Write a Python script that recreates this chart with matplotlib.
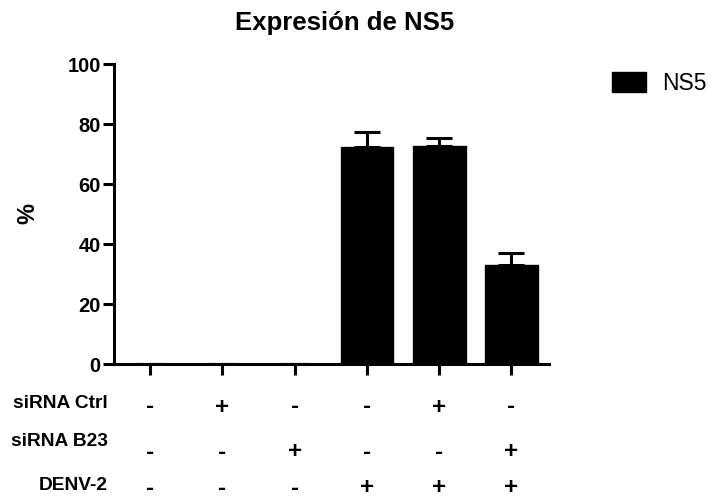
import matplotlib
matplotlib.use("Agg")
import matplotlib.pyplot as plt
from matplotlib.transforms import blended_transform_factory
from matplotlib.patches import Patch

plt.rcParams['font.family'] = ['Liberation Sans', 'DejaVu Sans']

title = "Expresión de NS5"
series_name = "NS5"
values = [0, 0, 0, 72.4, 72.7, 33.0]
errors = [0, 0, 0, 4.8, 2.5, 3.9]
yticks = [0, 20, 40, 60, 80, 100]
row_labels = ["siRNA Ctrl", "siRNA B23", "DENV-2"]
row_signs = [
    ["-", "+", "-", "-", "+", "-"],
    ["-", "-", "+", "-", "-", "+"],
    ["-", "-", "-", "+", "+", "+"],
]

W, H = 711, 500
fig = plt.figure(figsize=(W / 100, H / 100), dpi=100)
ax = fig.add_axes([114 / W, 1 - 364 / H, (549 - 114) / W, (364 - 64) / H])

x = list(range(len(values)))
ax.bar(x, values, width=0.73, color='black', edgecolor='black', zorder=2)
ax.errorbar(x, values, yerr=[[0] * len(errors), errors], fmt='none',
            ecolor='black', elinewidth=2.2, capsize=9.4, capthick=2.2, zorder=1)

ax.set_xlim(-0.5, 5.52)
ax.set_ylim(0, 100)
ax.set_yticks(yticks)
ax.set_xticks(x)
ax.set_xticklabels([])
for s in ['top', 'right']:
    ax.spines[s].set_visible(False)
for s in ['left', 'bottom']:
    ax.spines[s].set_linewidth(2.2)
ax.tick_params(axis='both', length=8, width=2.2, pad=1.5)
for lab in ax.get_yticklabels():
    lab.set_fontsize(14.5)
    lab.set_fontweight('bold')

fig.text(345 / W, 1 - 23 / H, title, ha='center', va='center',
         fontsize=18.5, fontweight='bold')
fig.text(28 / W, 1 - 214 / H, "%", rotation=90, ha='center', va='center',
         fontsize=17, fontweight='bold')

leg = fig.legend(handles=[Patch(facecolor='black', edgecolor='black', label=series_name)],
                 loc='upper left', bbox_to_anchor=(612 / W, 1 - 72 / H),
                 frameon=False, borderpad=0, borderaxespad=0,
                 handlelength=1.48, handleheight=0.92, handletextpad=0.7,
                 prop={'size': 16.5})

label_y = [403, 442, 485]
sign_y = [407, 452, 488]
tr = blended_transform_factory(ax.transData, fig.transFigure)
for r, lab in enumerate(row_labels):
    fig.text(108 / W, 1 - label_y[r] / H, lab, ha='right', va='center',
             fontsize=13.8, fontweight='bold')
    for i, sgn in enumerate(row_signs[r]):
        ax.text(i, 1 - sign_y[r] / H, sgn, transform=tr, ha='center', va='center',
                fontsize=17.5, fontweight='bold', clip_on=False)

fig.savefig("out.png", dpi=100)
